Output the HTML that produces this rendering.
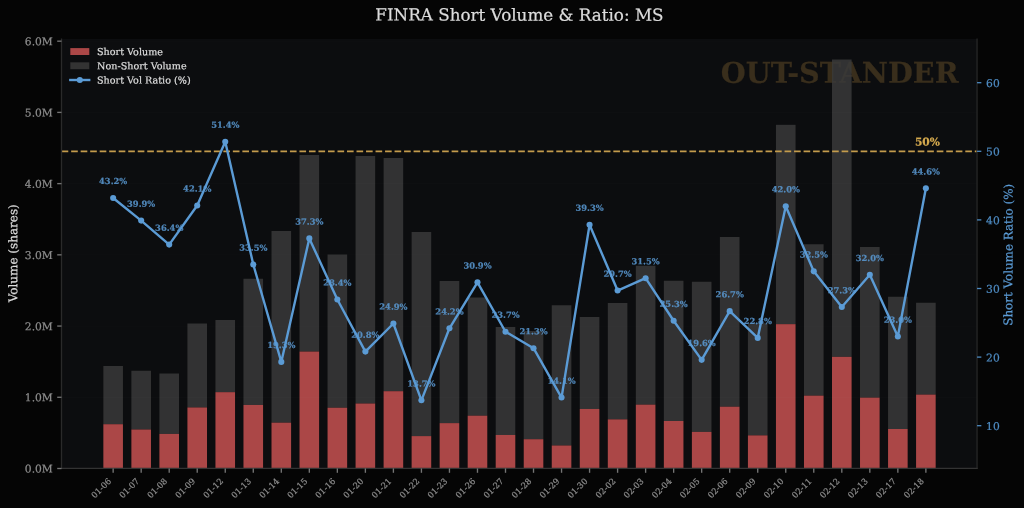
<!DOCTYPE html>
<html lang="en"><head><meta charset="utf-8"><title>FINRA Short Volume &amp; Ratio: MS</title>
<style>html,body{margin:0;padding:0;background:#050505;overflow:hidden}svg{display:block;will-change:transform}text{font-family:"DejaVu Serif", "Liberation Serif", serif;stroke-width:0.22px;text-rendering:geometricPrecision}</style></head><body>
<svg width="1024" height="508" viewBox="0 0 1024 508">
<rect width="1024" height="508" fill="#050505"/>
<rect x="61.5" y="39.0" width="915.55" height="429.40" fill="#0c0d0f"/>
<text x="958.50" y="82.90" transform="rotate(0.05 958.50 82.90)" font-size="28.66" fill="#392e1c" stroke="#392e1c" text-anchor="end" font-weight="bold">OUT-STANDER</text>
<g fill="#3a3a3a" fill-opacity="0.85">
<rect x="103.35" y="366.00" width="19.6" height="58.22"/>
<rect x="131.38" y="370.75" width="19.6" height="58.75"/>
<rect x="159.40" y="373.50" width="19.6" height="60.42"/>
<rect x="187.42" y="323.50" width="19.6" height="83.95"/>
<rect x="215.45" y="320.00" width="19.6" height="72.17"/>
<rect x="243.47" y="278.75" width="19.6" height="126.18"/>
<rect x="271.50" y="231.00" width="19.6" height="191.66"/>
<rect x="299.52" y="155.00" width="19.6" height="196.56"/>
<rect x="327.55" y="254.50" width="19.6" height="153.22"/>
<rect x="355.57" y="156.00" width="19.6" height="247.50"/>
<rect x="383.60" y="158.00" width="19.6" height="233.19"/>
<rect x="411.62" y="232.00" width="19.6" height="204.10"/>
<rect x="439.65" y="281.00" width="19.6" height="142.12"/>
<rect x="467.68" y="297.50" width="19.6" height="118.16"/>
<rect x="495.70" y="327.00" width="19.6" height="107.96"/>
<rect x="523.73" y="331.00" width="19.6" height="108.21"/>
<rect x="551.75" y="305.25" width="19.6" height="140.23"/>
<rect x="579.77" y="317.00" width="19.6" height="91.96"/>
<rect x="607.80" y="303.00" width="19.6" height="116.35"/>
<rect x="635.83" y="265.75" width="19.6" height="138.88"/>
<rect x="663.85" y="280.75" width="19.6" height="140.25"/>
<rect x="691.88" y="281.75" width="19.6" height="150.15"/>
<rect x="719.90" y="237.00" width="19.6" height="169.69"/>
<rect x="747.92" y="323.20" width="19.6" height="112.17"/>
<rect x="775.95" y="124.80" width="19.6" height="199.35"/>
<rect x="803.98" y="244.25" width="19.6" height="151.37"/>
<rect x="832.00" y="59.50" width="19.6" height="297.34"/>
<rect x="860.02" y="247.00" width="19.6" height="150.62"/>
<rect x="888.05" y="296.75" width="19.6" height="132.25"/>
<rect x="916.07" y="302.75" width="19.6" height="91.83"/>
</g>
<g fill="#ab4747">
<rect x="103.35" y="424.22" width="19.6" height="44.28"/>
<rect x="131.38" y="429.50" width="19.6" height="39.00"/>
<rect x="159.40" y="433.92" width="19.6" height="34.58"/>
<rect x="187.42" y="407.45" width="19.6" height="61.05"/>
<rect x="215.45" y="392.17" width="19.6" height="76.33"/>
<rect x="243.47" y="404.93" width="19.6" height="63.57"/>
<rect x="271.50" y="422.66" width="19.6" height="45.84"/>
<rect x="299.52" y="351.56" width="19.6" height="116.94"/>
<rect x="327.55" y="407.72" width="19.6" height="60.78"/>
<rect x="355.57" y="403.50" width="19.6" height="65.00"/>
<rect x="383.60" y="391.19" width="19.6" height="77.31"/>
<rect x="411.62" y="436.10" width="19.6" height="32.40"/>
<rect x="439.65" y="423.12" width="19.6" height="45.38"/>
<rect x="467.68" y="415.66" width="19.6" height="52.84"/>
<rect x="495.70" y="434.96" width="19.6" height="33.54"/>
<rect x="523.73" y="439.21" width="19.6" height="29.29"/>
<rect x="551.75" y="445.48" width="19.6" height="23.02"/>
<rect x="579.77" y="408.96" width="19.6" height="59.54"/>
<rect x="607.80" y="419.35" width="19.6" height="49.15"/>
<rect x="635.83" y="404.63" width="19.6" height="63.87"/>
<rect x="663.85" y="421.00" width="19.6" height="47.50"/>
<rect x="691.88" y="431.90" width="19.6" height="36.60"/>
<rect x="719.90" y="406.69" width="19.6" height="61.81"/>
<rect x="747.92" y="435.37" width="19.6" height="33.13"/>
<rect x="775.95" y="324.15" width="19.6" height="144.35"/>
<rect x="803.98" y="395.62" width="19.6" height="72.88"/>
<rect x="832.00" y="356.84" width="19.6" height="111.66"/>
<rect x="860.02" y="397.62" width="19.6" height="70.88"/>
<rect x="888.05" y="429.00" width="19.6" height="39.50"/>
<rect x="916.07" y="394.58" width="19.6" height="73.92"/>
</g>
<g stroke="#ffffff" stroke-opacity="0.02" stroke-width="0.9">
<line x1="61.5" x2="977.05" y1="397.28" y2="397.28"/>
<line x1="61.5" x2="977.05" y1="326.06" y2="326.06"/>
<line x1="61.5" x2="977.05" y1="254.84" y2="254.84"/>
<line x1="61.5" x2="977.05" y1="183.62" y2="183.62"/>
<line x1="61.5" x2="977.05" y1="112.40" y2="112.40"/>
<line x1="61.5" x2="977.05" y1="41.18" y2="41.18"/>
</g>
<line x1="61.64" x2="977.05" y1="151.3" y2="151.3" stroke="#c39b4c" stroke-width="1.8" stroke-dasharray="6.64 2.872"/>
<text x="927.40" y="145.60" transform="rotate(0.05 927.40 145.60)" font-size="10.7" fill="#d4a94e" stroke="#d4a94e" text-anchor="middle" font-weight="bold">50%</text>
<polyline fill="none" stroke="#5b9bd5" stroke-width="2.4" stroke-linejoin="round" points="113.15,197.95 141.18,220.59 169.20,244.60 197.22,205.49 225.25,141.70 253.28,264.49 281.30,361.90 309.32,238.42 337.35,299.48 365.38,351.61 393.40,323.49 421.42,400.32 449.45,328.29 477.48,282.33 505.50,331.72 533.52,348.18 561.55,397.57 589.57,224.70 617.60,290.56 645.62,278.21 673.65,320.74 701.67,359.84 729.70,311.14 757.72,337.89 785.75,206.18 813.77,271.35 841.80,307.02 869.82,274.78 897.85,336.52 925.87,188.34"/>
<g fill="#5b9bd5">
<circle cx="113.15" cy="197.95" r="3.05"/>
<circle cx="141.18" cy="220.59" r="3.05"/>
<circle cx="169.20" cy="244.60" r="3.05"/>
<circle cx="197.22" cy="205.49" r="3.05"/>
<circle cx="225.25" cy="141.70" r="3.05"/>
<circle cx="253.28" cy="264.49" r="3.05"/>
<circle cx="281.30" cy="361.90" r="3.05"/>
<circle cx="309.32" cy="238.42" r="3.05"/>
<circle cx="337.35" cy="299.48" r="3.05"/>
<circle cx="365.38" cy="351.61" r="3.05"/>
<circle cx="393.40" cy="323.49" r="3.05"/>
<circle cx="421.42" cy="400.32" r="3.05"/>
<circle cx="449.45" cy="328.29" r="3.05"/>
<circle cx="477.48" cy="282.33" r="3.05"/>
<circle cx="505.50" cy="331.72" r="3.05"/>
<circle cx="533.52" cy="348.18" r="3.05"/>
<circle cx="561.55" cy="397.57" r="3.05"/>
<circle cx="589.57" cy="224.70" r="3.05"/>
<circle cx="617.60" cy="290.56" r="3.05"/>
<circle cx="645.62" cy="278.21" r="3.05"/>
<circle cx="673.65" cy="320.74" r="3.05"/>
<circle cx="701.67" cy="359.84" r="3.05"/>
<circle cx="729.70" cy="311.14" r="3.05"/>
<circle cx="757.72" cy="337.89" r="3.05"/>
<circle cx="785.75" cy="206.18" r="3.05"/>
<circle cx="813.77" cy="271.35" r="3.05"/>
<circle cx="841.80" cy="307.02" r="3.05"/>
<circle cx="869.82" cy="274.78" r="3.05"/>
<circle cx="897.85" cy="336.52" r="3.05"/>
<circle cx="925.87" cy="188.34" r="3.05"/>
</g>
<g opacity="0.86">
<text x="113.15" y="184.10" transform="rotate(0.05 113.15 184.10)" font-size="8.33" fill="#5b9bd5" stroke="#5b9bd5" text-anchor="middle" font-weight="bold" stroke-width="0.08">43.2%</text>
<text x="141.18" y="206.74" transform="rotate(0.05 141.18 206.74)" font-size="8.33" fill="#5b9bd5" stroke="#5b9bd5" text-anchor="middle" font-weight="bold" stroke-width="0.08">39.9%</text>
<text x="169.20" y="230.75" transform="rotate(0.05 169.20 230.75)" font-size="8.33" fill="#5b9bd5" stroke="#5b9bd5" text-anchor="middle" font-weight="bold" stroke-width="0.08">36.4%</text>
<text x="197.22" y="191.64" transform="rotate(0.05 197.22 191.64)" font-size="8.33" fill="#5b9bd5" stroke="#5b9bd5" text-anchor="middle" font-weight="bold" stroke-width="0.08">42.1%</text>
<text x="225.25" y="127.85" transform="rotate(0.05 225.25 127.85)" font-size="8.33" fill="#5b9bd5" stroke="#5b9bd5" text-anchor="middle" font-weight="bold" stroke-width="0.08">51.4%</text>
<text x="253.28" y="250.64" transform="rotate(0.05 253.28 250.64)" font-size="8.33" fill="#5b9bd5" stroke="#5b9bd5" text-anchor="middle" font-weight="bold" stroke-width="0.08">33.5%</text>
<text x="281.30" y="348.05" transform="rotate(0.05 281.30 348.05)" font-size="8.33" fill="#5b9bd5" stroke="#5b9bd5" text-anchor="middle" font-weight="bold" stroke-width="0.08">19.3%</text>
<text x="309.32" y="224.57" transform="rotate(0.05 309.32 224.57)" font-size="8.33" fill="#5b9bd5" stroke="#5b9bd5" text-anchor="middle" font-weight="bold" stroke-width="0.08">37.3%</text>
<text x="337.35" y="285.63" transform="rotate(0.05 337.35 285.63)" font-size="8.33" fill="#5b9bd5" stroke="#5b9bd5" text-anchor="middle" font-weight="bold" stroke-width="0.08">28.4%</text>
<text x="365.38" y="337.76" transform="rotate(0.05 365.38 337.76)" font-size="8.33" fill="#5b9bd5" stroke="#5b9bd5" text-anchor="middle" font-weight="bold" stroke-width="0.08">20.8%</text>
<text x="393.40" y="309.64" transform="rotate(0.05 393.40 309.64)" font-size="8.33" fill="#5b9bd5" stroke="#5b9bd5" text-anchor="middle" font-weight="bold" stroke-width="0.08">24.9%</text>
<text x="421.42" y="386.47" transform="rotate(0.05 421.42 386.47)" font-size="8.33" fill="#5b9bd5" stroke="#5b9bd5" text-anchor="middle" font-weight="bold" stroke-width="0.08">13.7%</text>
<text x="449.45" y="314.44" transform="rotate(0.05 449.45 314.44)" font-size="8.33" fill="#5b9bd5" stroke="#5b9bd5" text-anchor="middle" font-weight="bold" stroke-width="0.08">24.2%</text>
<text x="477.48" y="268.48" transform="rotate(0.05 477.48 268.48)" font-size="8.33" fill="#5b9bd5" stroke="#5b9bd5" text-anchor="middle" font-weight="bold" stroke-width="0.08">30.9%</text>
<text x="505.50" y="317.87" transform="rotate(0.05 505.50 317.87)" font-size="8.33" fill="#5b9bd5" stroke="#5b9bd5" text-anchor="middle" font-weight="bold" stroke-width="0.08">23.7%</text>
<text x="533.52" y="334.33" transform="rotate(0.05 533.52 334.33)" font-size="8.33" fill="#5b9bd5" stroke="#5b9bd5" text-anchor="middle" font-weight="bold" stroke-width="0.08">21.3%</text>
<text x="561.55" y="383.72" transform="rotate(0.05 561.55 383.72)" font-size="8.33" fill="#5b9bd5" stroke="#5b9bd5" text-anchor="middle" font-weight="bold" stroke-width="0.08">14.1%</text>
<text x="589.57" y="210.85" transform="rotate(0.05 589.57 210.85)" font-size="8.33" fill="#5b9bd5" stroke="#5b9bd5" text-anchor="middle" font-weight="bold" stroke-width="0.08">39.3%</text>
<text x="617.60" y="276.71" transform="rotate(0.05 617.60 276.71)" font-size="8.33" fill="#5b9bd5" stroke="#5b9bd5" text-anchor="middle" font-weight="bold" stroke-width="0.08">29.7%</text>
<text x="645.62" y="264.36" transform="rotate(0.05 645.62 264.36)" font-size="8.33" fill="#5b9bd5" stroke="#5b9bd5" text-anchor="middle" font-weight="bold" stroke-width="0.08">31.5%</text>
<text x="673.65" y="306.89" transform="rotate(0.05 673.65 306.89)" font-size="8.33" fill="#5b9bd5" stroke="#5b9bd5" text-anchor="middle" font-weight="bold" stroke-width="0.08">25.3%</text>
<text x="701.67" y="345.99" transform="rotate(0.05 701.67 345.99)" font-size="8.33" fill="#5b9bd5" stroke="#5b9bd5" text-anchor="middle" font-weight="bold" stroke-width="0.08">19.6%</text>
<text x="729.70" y="297.29" transform="rotate(0.05 729.70 297.29)" font-size="8.33" fill="#5b9bd5" stroke="#5b9bd5" text-anchor="middle" font-weight="bold" stroke-width="0.08">26.7%</text>
<text x="757.72" y="324.04" transform="rotate(0.05 757.72 324.04)" font-size="8.33" fill="#5b9bd5" stroke="#5b9bd5" text-anchor="middle" font-weight="bold" stroke-width="0.08">22.8%</text>
<text x="785.75" y="192.33" transform="rotate(0.05 785.75 192.33)" font-size="8.33" fill="#5b9bd5" stroke="#5b9bd5" text-anchor="middle" font-weight="bold" stroke-width="0.08">42.0%</text>
<text x="813.77" y="257.50" transform="rotate(0.05 813.77 257.50)" font-size="8.33" fill="#5b9bd5" stroke="#5b9bd5" text-anchor="middle" font-weight="bold" stroke-width="0.08">32.5%</text>
<text x="841.80" y="293.17" transform="rotate(0.05 841.80 293.17)" font-size="8.33" fill="#5b9bd5" stroke="#5b9bd5" text-anchor="middle" font-weight="bold" stroke-width="0.08">27.3%</text>
<text x="869.82" y="260.93" transform="rotate(0.05 869.82 260.93)" font-size="8.33" fill="#5b9bd5" stroke="#5b9bd5" text-anchor="middle" font-weight="bold" stroke-width="0.08">32.0%</text>
<text x="897.85" y="322.67" transform="rotate(0.05 897.85 322.67)" font-size="8.33" fill="#5b9bd5" stroke="#5b9bd5" text-anchor="middle" font-weight="bold" stroke-width="0.08">23.0%</text>
<text x="925.87" y="174.49" transform="rotate(0.05 925.87 174.49)" font-size="8.33" fill="#5b9bd5" stroke="#5b9bd5" text-anchor="middle" font-weight="bold" stroke-width="0.08">44.6%</text>
</g>
<g fill="none" stroke-width="1.3"><line x1="61.5" x2="61.5" y1="38.4" y2="469.0" stroke="#2a2a2a"/><line x1="977.05" x2="977.05" y1="38.4" y2="469.0" stroke="#272727"/><line x1="60.9" x2="977.65" y1="468.4" y2="468.4" stroke="#333333"/></g>
<g stroke="#747474" stroke-width="1.35">
<line x1="57.2" x2="61.5" y1="468.50" y2="468.50"/>
<line x1="57.2" x2="61.5" y1="397.28" y2="397.28"/>
<line x1="57.2" x2="61.5" y1="326.06" y2="326.06"/>
<line x1="57.2" x2="61.5" y1="254.84" y2="254.84"/>
<line x1="57.2" x2="61.5" y1="183.62" y2="183.62"/>
<line x1="57.2" x2="61.5" y1="112.40" y2="112.40"/>
<line x1="57.2" x2="61.5" y1="41.18" y2="41.18"/>
<line x1="113.15" x2="113.15" y1="468.4" y2="472.79999999999995"/>
<line x1="141.18" x2="141.18" y1="468.4" y2="472.79999999999995"/>
<line x1="169.20" x2="169.20" y1="468.4" y2="472.79999999999995"/>
<line x1="197.22" x2="197.22" y1="468.4" y2="472.79999999999995"/>
<line x1="225.25" x2="225.25" y1="468.4" y2="472.79999999999995"/>
<line x1="253.28" x2="253.28" y1="468.4" y2="472.79999999999995"/>
<line x1="281.30" x2="281.30" y1="468.4" y2="472.79999999999995"/>
<line x1="309.32" x2="309.32" y1="468.4" y2="472.79999999999995"/>
<line x1="337.35" x2="337.35" y1="468.4" y2="472.79999999999995"/>
<line x1="365.38" x2="365.38" y1="468.4" y2="472.79999999999995"/>
<line x1="393.40" x2="393.40" y1="468.4" y2="472.79999999999995"/>
<line x1="421.42" x2="421.42" y1="468.4" y2="472.79999999999995"/>
<line x1="449.45" x2="449.45" y1="468.4" y2="472.79999999999995"/>
<line x1="477.48" x2="477.48" y1="468.4" y2="472.79999999999995"/>
<line x1="505.50" x2="505.50" y1="468.4" y2="472.79999999999995"/>
<line x1="533.52" x2="533.52" y1="468.4" y2="472.79999999999995"/>
<line x1="561.55" x2="561.55" y1="468.4" y2="472.79999999999995"/>
<line x1="589.57" x2="589.57" y1="468.4" y2="472.79999999999995"/>
<line x1="617.60" x2="617.60" y1="468.4" y2="472.79999999999995"/>
<line x1="645.62" x2="645.62" y1="468.4" y2="472.79999999999995"/>
<line x1="673.65" x2="673.65" y1="468.4" y2="472.79999999999995"/>
<line x1="701.67" x2="701.67" y1="468.4" y2="472.79999999999995"/>
<line x1="729.70" x2="729.70" y1="468.4" y2="472.79999999999995"/>
<line x1="757.72" x2="757.72" y1="468.4" y2="472.79999999999995"/>
<line x1="785.75" x2="785.75" y1="468.4" y2="472.79999999999995"/>
<line x1="813.77" x2="813.77" y1="468.4" y2="472.79999999999995"/>
<line x1="841.80" x2="841.80" y1="468.4" y2="472.79999999999995"/>
<line x1="869.82" x2="869.82" y1="468.4" y2="472.79999999999995"/>
<line x1="897.85" x2="897.85" y1="468.4" y2="472.79999999999995"/>
<line x1="925.87" x2="925.87" y1="468.4" y2="472.79999999999995"/>
</g>
<text x="52.80" y="472.60" transform="rotate(0.05 52.80 472.60)" font-size="10.7" fill="#8e8e8e" stroke="#8e8e8e" text-anchor="end">0.0M</text>
<text x="52.80" y="401.38" transform="rotate(0.05 52.80 401.38)" font-size="10.7" fill="#8e8e8e" stroke="#8e8e8e" text-anchor="end">1.0M</text>
<text x="52.80" y="330.16" transform="rotate(0.05 52.80 330.16)" font-size="10.7" fill="#8e8e8e" stroke="#8e8e8e" text-anchor="end">2.0M</text>
<text x="52.80" y="258.94" transform="rotate(0.05 52.80 258.94)" font-size="10.7" fill="#8e8e8e" stroke="#8e8e8e" text-anchor="end">3.0M</text>
<text x="52.80" y="187.72" transform="rotate(0.05 52.80 187.72)" font-size="10.7" fill="#8e8e8e" stroke="#8e8e8e" text-anchor="end">4.0M</text>
<text x="52.80" y="116.50" transform="rotate(0.05 52.80 116.50)" font-size="10.7" fill="#8e8e8e" stroke="#8e8e8e" text-anchor="end">5.0M</text>
<text x="52.80" y="45.28" transform="rotate(0.05 52.80 45.28)" font-size="10.7" fill="#8e8e8e" stroke="#8e8e8e" text-anchor="end">6.0M</text>
<text x="111.75" y="481.80" transform="rotate(-44.95 111.75 481.80)" font-size="8.4" fill="#8e8e8e" stroke="#8e8e8e" text-anchor="end">01-06</text>
<text x="139.78" y="481.80" transform="rotate(-44.95 139.78 481.80)" font-size="8.4" fill="#8e8e8e" stroke="#8e8e8e" text-anchor="end">01-07</text>
<text x="167.80" y="481.80" transform="rotate(-44.95 167.80 481.80)" font-size="8.4" fill="#8e8e8e" stroke="#8e8e8e" text-anchor="end">01-08</text>
<text x="195.82" y="481.80" transform="rotate(-44.95 195.82 481.80)" font-size="8.4" fill="#8e8e8e" stroke="#8e8e8e" text-anchor="end">01-09</text>
<text x="223.85" y="481.80" transform="rotate(-44.95 223.85 481.80)" font-size="8.4" fill="#8e8e8e" stroke="#8e8e8e" text-anchor="end">01-12</text>
<text x="251.88" y="481.80" transform="rotate(-44.95 251.88 481.80)" font-size="8.4" fill="#8e8e8e" stroke="#8e8e8e" text-anchor="end">01-13</text>
<text x="279.90" y="481.80" transform="rotate(-44.95 279.90 481.80)" font-size="8.4" fill="#8e8e8e" stroke="#8e8e8e" text-anchor="end">01-14</text>
<text x="307.93" y="481.80" transform="rotate(-44.95 307.93 481.80)" font-size="8.4" fill="#8e8e8e" stroke="#8e8e8e" text-anchor="end">01-15</text>
<text x="335.95" y="481.80" transform="rotate(-44.95 335.95 481.80)" font-size="8.4" fill="#8e8e8e" stroke="#8e8e8e" text-anchor="end">01-16</text>
<text x="363.98" y="481.80" transform="rotate(-44.95 363.98 481.80)" font-size="8.4" fill="#8e8e8e" stroke="#8e8e8e" text-anchor="end">01-20</text>
<text x="392.00" y="481.80" transform="rotate(-44.95 392.00 481.80)" font-size="8.4" fill="#8e8e8e" stroke="#8e8e8e" text-anchor="end">01-21</text>
<text x="420.02" y="481.80" transform="rotate(-44.95 420.02 481.80)" font-size="8.4" fill="#8e8e8e" stroke="#8e8e8e" text-anchor="end">01-22</text>
<text x="448.05" y="481.80" transform="rotate(-44.95 448.05 481.80)" font-size="8.4" fill="#8e8e8e" stroke="#8e8e8e" text-anchor="end">01-23</text>
<text x="476.08" y="481.80" transform="rotate(-44.95 476.08 481.80)" font-size="8.4" fill="#8e8e8e" stroke="#8e8e8e" text-anchor="end">01-26</text>
<text x="504.10" y="481.80" transform="rotate(-44.95 504.10 481.80)" font-size="8.4" fill="#8e8e8e" stroke="#8e8e8e" text-anchor="end">01-27</text>
<text x="532.12" y="481.80" transform="rotate(-44.95 532.12 481.80)" font-size="8.4" fill="#8e8e8e" stroke="#8e8e8e" text-anchor="end">01-28</text>
<text x="560.15" y="481.80" transform="rotate(-44.95 560.15 481.80)" font-size="8.4" fill="#8e8e8e" stroke="#8e8e8e" text-anchor="end">01-29</text>
<text x="588.17" y="481.80" transform="rotate(-44.95 588.17 481.80)" font-size="8.4" fill="#8e8e8e" stroke="#8e8e8e" text-anchor="end">01-30</text>
<text x="616.20" y="481.80" transform="rotate(-44.95 616.20 481.80)" font-size="8.4" fill="#8e8e8e" stroke="#8e8e8e" text-anchor="end">02-02</text>
<text x="644.23" y="481.80" transform="rotate(-44.95 644.23 481.80)" font-size="8.4" fill="#8e8e8e" stroke="#8e8e8e" text-anchor="end">02-03</text>
<text x="672.25" y="481.80" transform="rotate(-44.95 672.25 481.80)" font-size="8.4" fill="#8e8e8e" stroke="#8e8e8e" text-anchor="end">02-04</text>
<text x="700.27" y="481.80" transform="rotate(-44.95 700.27 481.80)" font-size="8.4" fill="#8e8e8e" stroke="#8e8e8e" text-anchor="end">02-05</text>
<text x="728.30" y="481.80" transform="rotate(-44.95 728.30 481.80)" font-size="8.4" fill="#8e8e8e" stroke="#8e8e8e" text-anchor="end">02-06</text>
<text x="756.32" y="481.80" transform="rotate(-44.95 756.32 481.80)" font-size="8.4" fill="#8e8e8e" stroke="#8e8e8e" text-anchor="end">02-09</text>
<text x="784.35" y="481.80" transform="rotate(-44.95 784.35 481.80)" font-size="8.4" fill="#8e8e8e" stroke="#8e8e8e" text-anchor="end">02-10</text>
<text x="812.38" y="481.80" transform="rotate(-44.95 812.38 481.80)" font-size="8.4" fill="#8e8e8e" stroke="#8e8e8e" text-anchor="end">02-11</text>
<text x="840.40" y="481.80" transform="rotate(-44.95 840.40 481.80)" font-size="8.4" fill="#8e8e8e" stroke="#8e8e8e" text-anchor="end">02-12</text>
<text x="868.42" y="481.80" transform="rotate(-44.95 868.42 481.80)" font-size="8.4" fill="#8e8e8e" stroke="#8e8e8e" text-anchor="end">02-13</text>
<text x="896.45" y="481.80" transform="rotate(-44.95 896.45 481.80)" font-size="8.4" fill="#8e8e8e" stroke="#8e8e8e" text-anchor="end">02-17</text>
<text x="924.47" y="481.80" transform="rotate(-44.95 924.47 481.80)" font-size="8.4" fill="#8e8e8e" stroke="#8e8e8e" text-anchor="end">02-18</text>
<g stroke="#4e8bc2" stroke-width="1.3">
<line x1="977.05" x2="981.3499999999999" y1="425.70" y2="425.70"/>
<line x1="977.05" x2="981.3499999999999" y1="357.10" y2="357.10"/>
<line x1="977.05" x2="981.3499999999999" y1="288.50" y2="288.50"/>
<line x1="977.05" x2="981.3499999999999" y1="219.90" y2="219.90"/>
<line x1="977.05" x2="981.3499999999999" y1="151.30" y2="151.30"/>
<line x1="977.05" x2="981.3499999999999" y1="82.70" y2="82.70"/>
</g>
<text x="986.10" y="430.00" transform="rotate(0.05 986.10 430.00)" font-size="10.7" fill="#4e8bc2" stroke="#4e8bc2" text-anchor="start">10</text>
<text x="986.10" y="361.40" transform="rotate(0.05 986.10 361.40)" font-size="10.7" fill="#4e8bc2" stroke="#4e8bc2" text-anchor="start">20</text>
<text x="986.10" y="292.80" transform="rotate(0.05 986.10 292.80)" font-size="10.7" fill="#4e8bc2" stroke="#4e8bc2" text-anchor="start">30</text>
<text x="986.10" y="224.20" transform="rotate(0.05 986.10 224.20)" font-size="10.7" fill="#4e8bc2" stroke="#4e8bc2" text-anchor="start">40</text>
<text x="986.10" y="155.60" transform="rotate(0.05 986.10 155.60)" font-size="10.7" fill="#4e8bc2" stroke="#4e8bc2" text-anchor="start">50</text>
<text x="986.10" y="87.00" transform="rotate(0.05 986.10 87.00)" font-size="10.7" fill="#4e8bc2" stroke="#4e8bc2" text-anchor="start">60</text>
<text x="17.20" y="253.30" transform="rotate(-89.95 17.20 253.30)" font-size="12" fill="#dddddd" stroke="#dddddd" text-anchor="middle">Volume (shares)</text>
<text x="1012.40" y="254.80" transform="rotate(-89.95 1012.40 254.80)" font-size="11.9" fill="#5b9bd5" stroke="#5b9bd5" text-anchor="middle">Short Volume Ratio (%)</text>
<text x="519.40" y="20.70" transform="rotate(0.05 519.40 20.70)" font-size="16.75" fill="#dcdcdc" stroke="#dcdcdc" text-anchor="middle">FINRA Short Volume &amp; Ratio: MS</text>
<rect x="70.3" y="48.1" width="19" height="6.9" fill="#ab4747"/>
<rect x="70.3" y="62.3" width="19" height="6.9" fill="#333333"/>
<line x1="69.1" x2="90.4" y1="80" y2="80" stroke="#5b9bd5" stroke-width="2.4"/><circle cx="79.8" cy="80" r="3.05" fill="#5b9bd5"/>
<text x="97.00" y="55.10" transform="rotate(0.05 97.00 55.10)" font-size="9.62" fill="#dddddd" stroke="#dddddd" text-anchor="start">Short Volume</text>
<text x="97.00" y="69.20" transform="rotate(0.05 97.00 69.20)" font-size="9.62" fill="#dddddd" stroke="#dddddd" text-anchor="start">Non-Short Volume</text>
<text x="97.00" y="83.40" transform="rotate(0.05 97.00 83.40)" font-size="9.62" fill="#dddddd" stroke="#dddddd" text-anchor="start">Short Vol Ratio (%)</text>
</svg></body></html>
